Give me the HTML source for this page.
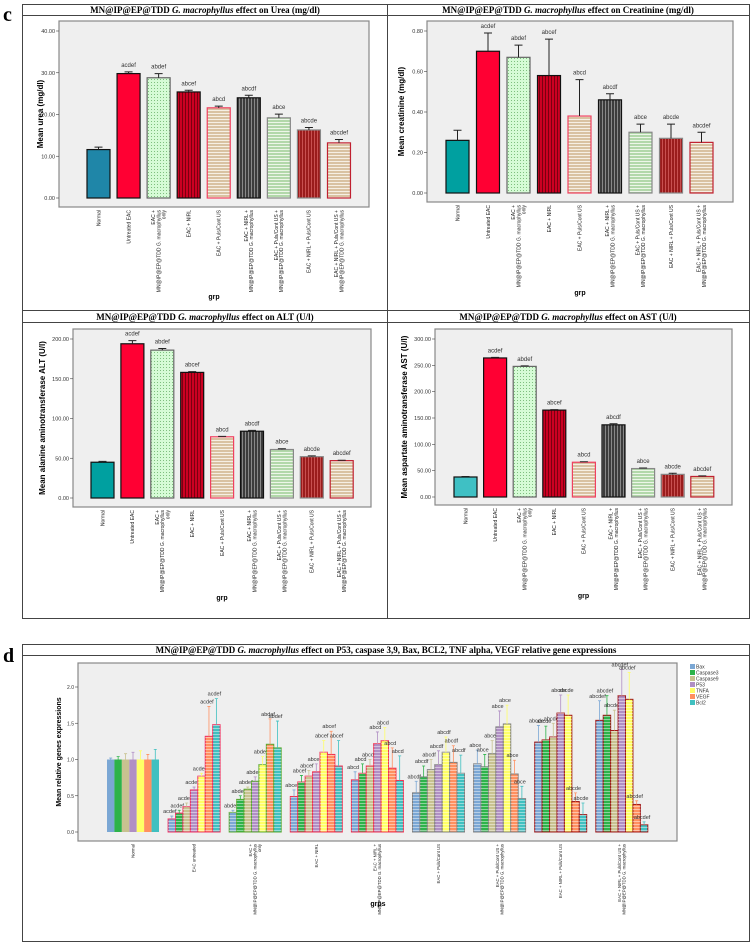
<!DOCTYPE html>
<html><head><meta charset="utf-8"><style>
html,body{margin:0;padding:0;background:#fff;}
svg{display:block;font-family:"Liberation Sans",sans-serif;}
.ttl{font-family:"Liberation Serif",serif;font-weight:bold;font-size:9px;}
</style></head><body>
<svg id="fig" width="752" height="945" viewBox="0 0 752 945" xmlns="http://www.w3.org/2000/svg">
<defs>
<pattern id="pDots" width="3" height="3" patternUnits="userSpaceOnUse"><rect width="3" height="3" fill="#d6fbd6"/><rect x="1" y="1" width="1" height="1" fill="#7fbf7f"/></pattern>
<pattern id="pRedV" width="3" height="3" patternUnits="userSpaceOnUse"><rect width="3" height="3" fill="#cc0022"/><rect x="2" width="1" height="3" fill="#7a0010"/></pattern>
<pattern id="pTanH" width="3" height="3" patternUnits="userSpaceOnUse"><rect width="3" height="3" fill="#d9c2a2"/><rect y="2" width="3" height="1" fill="#f6efe4"/></pattern>
<pattern id="pGrayV" width="3" height="3" patternUnits="userSpaceOnUse"><rect width="3" height="3" fill="#3c3c3c"/><rect x="2" width="1" height="3" fill="#888"/></pattern>
<pattern id="pGreenH" width="3" height="3" patternUnits="userSpaceOnUse"><rect width="3" height="3" fill="#b2d8aa"/><rect y="2" width="3" height="1" fill="#ecf6e8"/></pattern>
<pattern id="pDRedV" width="3" height="3" patternUnits="userSpaceOnUse"><rect width="3" height="3" fill="#9a1c1c"/><rect x="2" width="1" height="3" fill="#c85050"/></pattern>
<pattern id="pStripe" width="3" height="3" patternUnits="userSpaceOnUse"><rect y="2" width="3" height="1" fill="#ffffff" fill-opacity="0.45"/></pattern>
</defs>
<text x="3" y="21" font-family="Liberation Serif,serif" font-weight="bold" font-size="20">c</text>
<text x="3" y="662" font-family="Liberation Serif,serif" font-weight="bold" font-size="20">d</text>
<rect x="22.5" y="4.5" width="727" height="614" fill="none" stroke="#444"/>
<line x1="387.5" y1="4" x2="387.5" y2="618" stroke="#444"/>
<line x1="22" y1="310.5" x2="750" y2="310.5" stroke="#444"/>
<line x1="22" y1="15.5" x2="750" y2="15.5" stroke="#444"/>
<line x1="22" y1="322.5" x2="750" y2="322.5" stroke="#444"/>
<rect x="22.5" y="644.5" width="727" height="297" fill="none" stroke="#444"/>
<line x1="22" y1="655.5" x2="750" y2="655.5" stroke="#444"/>
<text class="ttl" x="205" y="13" text-anchor="middle">MN@IP@EP@TDD <tspan font-style="italic">G. macrophyllus</tspan> effect on Urea (mg/dl)</text>
<text class="ttl" x="568" y="13" text-anchor="middle">MN@IP@EP@TDD <tspan font-style="italic">G. macrophyllus</tspan> effect on Creatinine (mg/dl)</text>
<text class="ttl" x="205" y="320" text-anchor="middle">MN@IP@EP@TDD <tspan font-style="italic">G. macrophyllus</tspan> effect on ALT (U/l)</text>
<text class="ttl" x="568" y="320" text-anchor="middle">MN@IP@EP@TDD <tspan font-style="italic">G. macrophyllus</tspan> effect on AST (U/l)</text>
<text class="ttl" x="386" y="653" text-anchor="middle">MN@IP@EP@TDD <tspan font-style="italic">G. macrophyllus</tspan> effect on P53, caspase 3,9, Bax, BCL2, TNF alpha, VEGF relative gene expressions</text>
</svg>
<script>
// ---- data ----
const groupsC = [["Normal"],["Untreated EAC"],["EAC +","MN@IP@EP@TDD G. macrophyllus","only"],["EAC + NIRL"],["EAC + Puls/Cont US"],["EAC + NIRL +","MN@IP@EP@TDD G. macrophyllus"],["EAC + Puls/Cont US +","MN@IP@EP@TDD G. macrophyllus"],["EAC + NIRL + Puls/Cont US"],["EAC + NIRL + Puls/Cont US +","MN@IP@EP@TDD G. macrophyllus"]];
const lettersC = ["","acdef","abdef","abcef","abcd","abcdf","abce","abcde","abcdef"];
const ureaMeans = [11.6,29.8,28.8,25.4,21.6,24.0,19.2,16.3,13.2];
const ureaErr = [12.2,30.2,29.8,25.8,22.0,24.6,20.1,16.9,14.0];
const ureaTicks = [0,10,20,30,40];
const creatMeans = [0.26,0.70,0.67,0.58,0.38,0.46,0.30,0.27,0.25];
const creatErr = [0.31,0.79,0.73,0.76,0.56,0.49,0.34,0.34,0.30];
const creatTicks = [0,0.2,0.4,0.6,0.8];
const altMeans = [45,194,186,158,77,84,61,52,47];
const altErr = [46,198,188,159,77.5,85,62,53,47.5];
const altTicks = [0,50,100,150,200];
const astMeans = [38,264,248,165,66,137,54,43,39];
const astErr = [39,265,249,166,67,139,55,45,40];
const astTicks = [0,50,100,150,200,250,300];

const groupsD = [["Normal"],["EAC untreated"],["EAC +","MN@IP@EP@TDD G. macrophyllus","only"],["EAC + NIRL"],["EAC + NIRL +","MN@IP@EP@TDD G. macrophyllus"],["EAC + Puls/Cont US"],["EAC + Puls/Cont US +","MN@IP@EP@TDD G. macrophyllus"],["EAC + NIRL + Puls/Cont US"],["EAC + NIRL + Puls/Cont US +","MN@IP@EP@TDD G. macrophyllus"]];
const genes = ["Bax","Caspase3","Caspase9","P53","TNFA","VEGF","Bcl2"];
const lettersD = ["","acdef","abdef","abcef","abcd","abcdf","abce","abcde","abcdef"];
const bax = [1.0,0.18,0.27,0.49,0.72,0.54,0.94,1.24,1.54];
const casp3 = [1.0,0.26,0.45,0.69,0.81,0.76,0.90,1.27,1.61];
const casp9 = [1.0,0.35,0.59,0.77,0.91,0.86,1.08,1.31,1.40];
const p53 = [1.0,0.58,0.70,0.83,1.22,0.93,1.45,1.64,1.88];
const tnfa = [1.0,0.77,0.93,1.10,1.26,1.10,1.49,1.61,1.83];
const vegf = [1.0,1.32,1.21,1.07,0.88,0.96,0.80,0.42,0.38];
const bcl2 = [1.0,1.48,1.16,0.91,0.71,0.81,0.46,0.24,0.10];
const baxE = [1.02,0.22,0.30,0.58,0.83,0.70,1.13,1.47,1.81];
const casp3E = [1.04,0.30,0.50,0.78,0.94,0.91,1.07,1.46,1.88];
const casp9E = [1.08,0.40,0.62,0.85,1.00,1.00,1.26,1.50,1.68];
const p53E = [1.10,0.62,0.76,0.94,1.38,1.12,1.67,1.89,2.24];
const tnfaE = [1.12,0.81,1.04,1.26,1.44,1.31,1.75,1.89,2.20];
const vegfE = [1.07,1.73,1.56,1.39,1.16,1.19,0.99,0.54,0.43];
const bcl2E = [1.14,1.84,1.53,1.26,1.05,1.06,0.63,0.40,0.14];
const dTicks = [0,0.5,1.0,1.5,2.0];

// ---- styles ----
const fillsC = ["#1f86a8","#ff0033","url(#pDots)","url(#pRedV)","url(#pTanH)","url(#pGrayV)","url(#pGreenH)","url(#pDRedV)","url(#pTanH)"];
const strokesC = ["#111","#111","#666","#111","#f04060","#111","#888","#888","#c02030"];
const geneColors = ["#7ba7d4","#2db34a","#c8c290","#b08fc4","#ffff66","#ff9060","#40c0c0"];
const groupStroke = ["none","#f03060","#5aa830","#f03050","#f03050","#808080","#808080","#a01818","#a01818"];

const svg = document.getElementById('fig');
const NS = "http://www.w3.org/2000/svg";
function mk(tag, attrs, parent){const e=document.createElementNS(NS,tag);for(const k in attrs)e.setAttribute(k,attrs[k]);(parent||svg).appendChild(e);return e;}

function xLabels(g, groups, cx, topY, fs){
  groups.forEach((lines,i)=>{
    const n=lines.length;
    lines.forEach((ln,j)=>{
      const lx=cx(i)+(j-(n-1)/2)*fs*1.05+fs*0.35;
      const t=mk('text',{x:lx,y:topY,'font-size':fs,'text-anchor':'end',transform:`rotate(-90 ${lx} ${topY})`,fill:'#222'},g);
      
      
      t.textContent=ln;
    });
  });
}

function panel(cfg){
  const g=mk('g',{});
  
  
  const yS=v=>cfg.zeroY-(v/cfg.max)*(cfg.zeroY-cfg.maxY);
  const cx=i=>cfg.c0+i*cfg.step;
  const pa=mk('rect',{x:cfg.x0,y:cfg.y0,width:cfg.x1-cfg.x0,height:cfg.y1-cfg.y0,fill:'#efefef',stroke:'#888','stroke-width':1.2},g);
  
  
  cfg.ticks.forEach(t=>{
    const y=yS(t);
    mk('line',{x1:cfg.x0-3,x2:cfg.x0,y1:y,y2:y,stroke:'#444','stroke-width':0.6},g);
    const tl=mk('text',{x:cfg.x0-4,y:y+2,'font-size':5.5,'text-anchor':'end',fill:'#333'},g);
    
    
    tl.textContent=t.toFixed(2);
  });
  const bw=cfg.bw;
  cfg.means.forEach((m,i)=>{
    const x=cx(i)-bw/2, y=yS(m);
    const r=mk('rect',{x:x,y:y,width:bw,height:yS(0)-y,fill:(cfg.fills&&cfg.fills[i])||fillsC[i],stroke:strokesC[i],'stroke-width':1.2},g);
    
    
    const ey=yS(cfg.err[i]);
    const el=mk('path',{d:`M${cx(i)} ${y}V${ey}M${cx(i)-4} ${ey}H${cx(i)+4}`,stroke:'#222','stroke-width':1,fill:'none'},g);
    
    
    if(lettersC[i]){
      const lt=mk('text',{x:cx(i),y:ey-5,'font-size':6,'text-anchor':'middle',fill:'#333'},g);
      
      
      lt.textContent=lettersC[i];
    }
  });
  const yt=mk('text',{x:cfg.ytx,y:(cfg.y0+cfg.y1)/2,'font-size':8,'font-weight':'bold','text-anchor':'middle',transform:`rotate(-90 ${cfg.ytx} ${(cfg.y0+cfg.y1)/2})`},g);
  
  
  yt.textContent=cfg.ytitle;
  xLabels(g,groupsC,cx,cfg.y1+3,5);
  const xt=mk('text',{x:(cfg.x0+cfg.x1)/2,y:cfg.grpY,'font-size':7,'font-weight':'bold','text-anchor':'middle'},g);
  
  
  xt.textContent='grp';
}

const normalAlt = fillsC.slice(); normalAlt[0]="#00a0a0";
const normalAst = fillsC.slice(); normalAst[0]="#3fc0c4";
panel({name:'urea-chart',x0:59,x1:369,y0:21,y1:207,zeroY:198,maxY:31,max:40,ticks:ureaTicks,means:ureaMeans,err:ureaErr,c0:98.5,step:30.06,bw:23,ytx:43,ytitle:'Mean urea (mg/dl)',grpY:299});
panel({name:'creatinine-chart',x0:427,x1:733,y0:21,y1:202,zeroY:193,maxY:31,max:0.8,ticks:creatTicks,means:creatMeans,err:creatErr,c0:457.5,step:30.5,bw:23,ytx:404,ytitle:'Mean creatinine (mg/dl)',grpY:295,fills:normalAlt});
panel({name:'alt-chart',x0:73,x1:371,y0:329,y1:507,zeroY:498,maxY:339,max:200,ticks:altTicks,means:altMeans,err:altErr,c0:102.5,step:29.9,bw:23,ytx:45,ytitle:'Mean alanine aminotransferase ALT (U/l)',grpY:600,fills:normalAlt});
panel({name:'ast-chart',x0:435,x1:732,y0:329,y1:505,zeroY:497,maxY:339,max:300,ticks:astTicks,means:astMeans,err:astErr,c0:465.5,step:29.6,bw:23,ytx:407,ytitle:'Mean aspartate aminotransferase AST (U/l)',grpY:598,fills:normalAst});

// ---- panel d ----
(function(){
  const series=[bax,casp3,casp9,p53,tnfa,vegf,bcl2];
  const errs=[baxE,casp3E,casp9E,p53E,tnfaE,vegfE,bcl2E];
  const g=mk('g',{});
  
  
  const x0=78,x1=677,y0=663,y1=841,zeroY=832,maxY=687,max=2.0;
  const yS=v=>zeroY-(v/max)*(zeroY-maxY);
  const cx=i=>133+i*61.1;
  const gw=52,bw=gw/7;
  const pa=mk('rect',{x:x0,y:y0,width:x1-x0,height:y1-y0,fill:'#efefef',stroke:'#888','stroke-width':1.2},g);
  
  
  dTicks.forEach(t=>{
    const y=yS(t);
    mk('line',{x1:x0-3,x2:x0,y1:y,y2:y,stroke:'#444','stroke-width':0.6},g);
    const tl=mk('text',{x:x0-4,y:y+2,'font-size':5,'text-anchor':'end',fill:'#333'},g);
    
    
    tl.textContent=t.toFixed(1);
  });
  groupsD.forEach((_,gi)=>{
    series.forEach((s,si)=>{
      const x=cx(gi)-gw/2+si*bw, y=yS(s[gi]);
      const r=mk('rect',{x:x,y:y,width:bw,height:zeroY-y,fill:geneColors[si],stroke:groupStroke[gi],'stroke-width':1},g);
      
      
      if(gi>0){mk('rect',{x:x,y:y,width:bw,height:zeroY-y,fill:'url(#pStripe)'},g);}
      const ey=yS(errs[si][gi]);
      const bx=x+bw/2;
      const el=mk('path',{d:`M${bx} ${y}V${ey}M${bx-1.5} ${ey}H${bx+1.5}`,stroke:geneColors[si],'stroke-width':0.8,fill:'none'},g);
      
      
      if(lettersD[gi]){
        const lt=mk('text',{x:bx-2,y:ey-3,'font-size':5.5,'text-anchor':'middle',fill:'#333'},g);
        
        
        lt.textContent=lettersD[gi];
      }
    });
  });
  const yt=mk('text',{x:61,y:(y0+y1)/2,'font-size':7,'font-weight':'bold','text-anchor':'middle',transform:`rotate(-90 61 ${(y0+y1)/2})`},g);
  
  
  yt.textContent='Mean relative genes expressions';
  xLabels(g,groupsD,cx,y1+3,4.3);
  const xt=mk('text',{x:378,y:906,'font-size':7,'font-weight':'bold','text-anchor':'middle'},g);
  
  
  xt.textContent='grps';
  genes.forEach((nm,i)=>{
    const ly=664+i*6;
    const sw=mk('rect',{x:690,y:ly,width:5,height:5,fill:geneColors[i]},g);
    
    
    const lt=mk('text',{x:696,y:ly+4.5,'font-size':5,fill:'#333'},g);
    
    
    lt.textContent=nm;
  });
})();
</script>
</body></html>
